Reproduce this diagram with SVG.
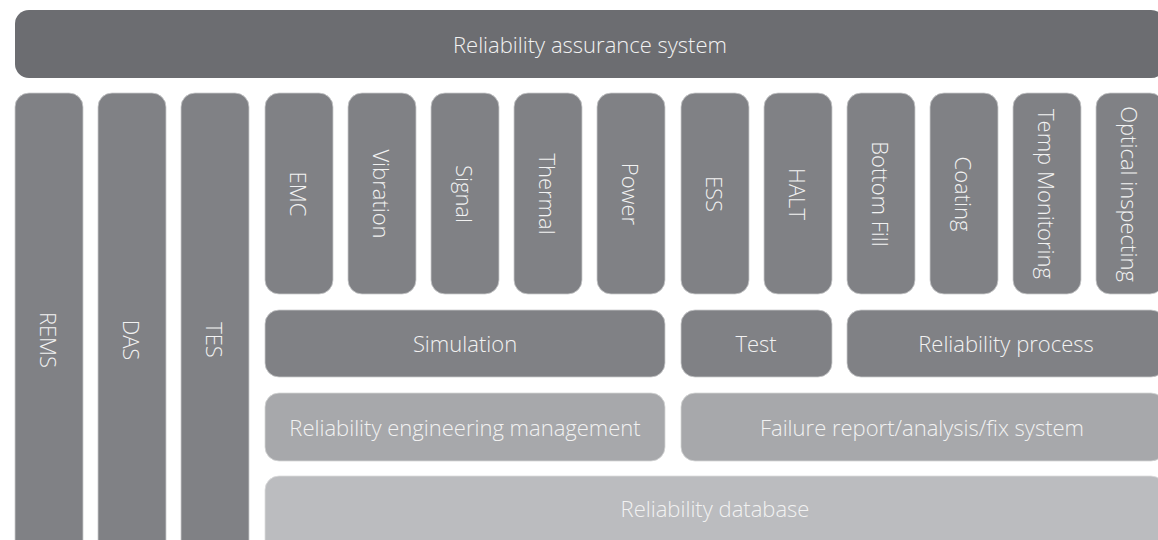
<svg xmlns="http://www.w3.org/2000/svg" width="1158" height="540" viewBox="0 0 1158 540">
<style>
.t{font-family:"Open Sans","Source Sans Pro","Liberation Sans",sans-serif;font-size:22px;font-weight:300;fill:#f2f2f2;text-anchor:middle;dominant-baseline:central}
.d1{fill:#6c6d71}
.d2{fill:#808185;stroke:#c9cacc;stroke-width:0.8}
.d3{fill:#a7a8ab;stroke:#d4d5d6;stroke-width:0.8}
.d4{fill:#bbbcbf;stroke:#dcdcdd;stroke-width:0.8}
</style>
<rect width="1158" height="540" fill="#ffffff"/>
<g id="top"><rect class="d1" x="15" y="10" width="1150" height="68" rx="14"/><text class="t" x="590" y="44">Reliability assurance system</text></g>
<g id="rems"><rect class="d2" x="15" y="93" width="68" height="494" rx="14"/><text class="t" transform="translate(49,340) rotate(90)">REMS</text></g>
<g id="das"><rect class="d2" x="98" y="93" width="68" height="494" rx="14"/><text class="t" transform="translate(132,340) rotate(90)">DAS</text></g>
<g id="tes"><rect class="d2" x="181" y="93" width="68" height="494" rx="14"/><text class="t" transform="translate(215,340) rotate(90)">TES</text></g>
<g id="emc"><rect class="d2" x="265" y="93" width="68" height="201" rx="14"/><text class="t" transform="translate(299,194) rotate(90)">EMC</text></g>
<g id="vibration"><rect class="d2" x="348" y="93" width="68" height="201" rx="14"/><text class="t" transform="translate(382,194) rotate(90)">Vibration</text></g>
<g id="signal"><rect class="d2" x="431" y="93" width="68" height="201" rx="14"/><text class="t" transform="translate(465,194) rotate(90)">Signal</text></g>
<g id="thermal"><rect class="d2" x="514" y="93" width="68" height="201" rx="14"/><text class="t" transform="translate(548,194) rotate(90)">Thermal</text></g>
<g id="power"><rect class="d2" x="597" y="93" width="68" height="201" rx="14"/><text class="t" transform="translate(631,194) rotate(90)">Power</text></g>
<g id="ess"><rect class="d2" x="681" y="93" width="68" height="201" rx="14"/><text class="t" transform="translate(715,194) rotate(90)">ESS</text></g>
<g id="halt"><rect class="d2" x="764" y="93" width="68" height="201" rx="14"/><text class="t" transform="translate(798,194) rotate(90)">HALT</text></g>
<g id="bottomfill"><rect class="d2" x="847" y="93" width="68" height="201" rx="14"/><text class="t" transform="translate(881,194) rotate(90)">Bottom Fill</text></g>
<g id="coating"><rect class="d2" x="930" y="93" width="68" height="201" rx="14"/><text class="t" transform="translate(964,194) rotate(90)">Coating</text></g>
<g id="tempmon"><rect class="d2" x="1013" y="93" width="68" height="201" rx="14"/><text class="t" transform="translate(1047,194) rotate(90)">Temp Monitoring</text></g>
<g id="optical"><rect class="d2" x="1096" y="93" width="68" height="201" rx="14"/><text class="t" transform="translate(1130,194) rotate(90)">Optical inspecting</text></g>
<g id="simulation"><rect class="d2" x="265" y="310" width="400" height="67" rx="14"/><text class="t" x="465" y="343">Simulation</text></g>
<g id="test"><rect class="d2" x="681" y="310" width="151" height="67" rx="14"/><text class="t" x="756" y="343">Test</text></g>
<g id="relproc"><rect class="d2" x="847" y="310" width="318" height="67" rx="14"/><text class="t" x="1006" y="343">Reliability process</text></g>
<g id="relengmgmt"><rect class="d3" x="265" y="393" width="400" height="68" rx="14"/><text class="t" x="465" y="427">Reliability engineering management</text></g>
<g id="failure"><rect class="d3" x="681" y="393" width="484" height="68" rx="14"/><text class="t" x="922" y="427">Failure report/analysis/fix system</text></g>
<g id="database"><rect class="d4" x="265" y="476" width="900" height="80" rx="14"/><text class="t" x="715" y="508">Reliability database</text></g>
<g id="connectors"/>
</svg>
